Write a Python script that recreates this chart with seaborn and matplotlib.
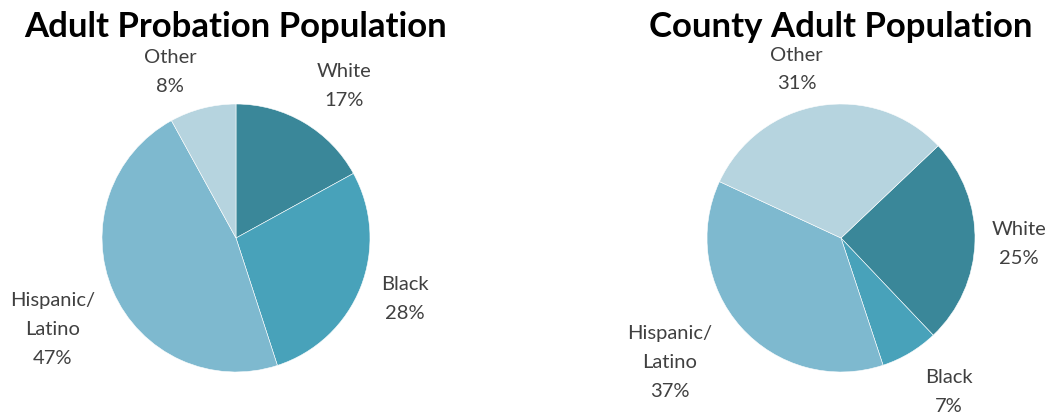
import matplotlib
matplotlib.use("Agg")
import matplotlib.pyplot as plt
import seaborn as sns
import numpy as np

sns.set_theme(style="white")
plt.rcParams['font.family'] = ['Lato', 'DejaVu Sans']

# ---- data ----
titles = ["Adult Probation Population", "County Adult Population"]
categories = ["White", "Black", "Hispanic/\nLatino", "Other"]
probation_pct = [17, 28, 47, 8]
county_pct = [25, 7, 37, 31]
colors = ["#3A8799", "#48A2BA", "#7EB9CF", "#B6D4DF"]

# ---- layout ----
start_angles = [90, 43.5]
# label placement (angle in degrees, distance in radii) per category
label_layout = [
    [(54.6, 1.39), (-20, 1.34), (206.6, 1.53), (111.7, 1.33)],
    [(-2, 1.33), (-55, 1.40), (216, 1.58), (104.7, 1.30)],
]
W, H = 1056, 415
scale = 134.0
centers_px = [(236, 177), (313, 177)]

fig = plt.figure(figsize=(W / 100, H / 100), dpi=100)
fig.patch.set_facecolor("white")

for i, values in enumerate([probation_pct, county_pct]):
    ax = fig.add_axes([i * 0.5, 0, 0.5, 1])
    wedges, _ = ax.pie(values, colors=colors, startangle=start_angles[i],
                       counterclock=False, radius=1,
                       wedgeprops=dict(edgecolor="white", linewidth=0.4))
    cx, cy = centers_px[i]
    ax.set_xlim(-cx / scale, (W / 2 - cx) / scale)
    ax.set_ylim(-cy / scale, (H - cy) / scale)
    ax.set_aspect("equal", adjustable="box")
    ax.axis("off")
    for cat, val, (ang, dist) in zip(categories, values, label_layout[i]):
        a = np.deg2rad(ang)
        ax.text(dist * np.cos(a), dist * np.sin(a), f"{cat}\n{val}%",
                ha="center", va="center", fontsize=14.5, color="#404040",
                linespacing=1.85)
    ax.text(0, (H - 27 - cy) / scale, titles[i], ha="center", va="center",
            fontsize=25, fontweight="bold", color="black")

fig.savefig("out.png", dpi=100, facecolor="white")
